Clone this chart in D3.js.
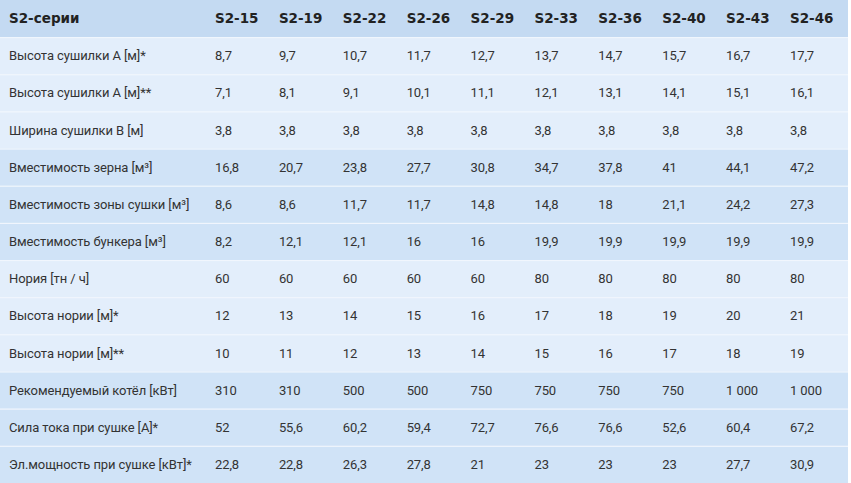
<!DOCTYPE html>
<html>
<head>
<meta charset="utf-8" />
<style>
  body { margin: 0; background: #fff; }
  svg text { fill: #333; }
  .cell { font-family: "Roboto", sans-serif; font-size: 13px; letter-spacing: -0.1px; }
  .head { font-family: "DejaVu Sans", sans-serif; font-weight: bold; font-size: 13.5px; fill: #222; }
</style>
</head>
<body>
<svg id="chart" width="851" height="483"></svg>
<script src="https://d3js.org/d3.v7.min.js"></script>
<script>
  // Column headers and row labels
  const models = ['S2-15','S2-19','S2-22','S2-26','S2-29','S2-33','S2-36','S2-40','S2-43','S2-46'];
  const rowLabels = [
    'Высота сушилки А [м]*',
    'Высота сушилки А [м]**',
    'Ширина сушилки В [м]',
    'Вместимость зерна [м³]',
    'Вместимость зоны сушки [м³]',
    'Вместимость бункера [м³]',
    'Нория [тн / ч]',
    'Высота нории [м]*',
    'Высота нории [м]**',
    'Рекомендуемый котёл [кВт]',
    'Сила тока при сушке [А]*',
    'Эл.мощность при сушке [кВт]*'
  ];
  const values = [
    ['8,7','9,7','10,7','11,7','12,7','13,7','14,7','15,7','16,7','17,7'],
    ['7,1','8,1','9,1','10,1','11,1','12,1','13,1','14,1','15,1','16,1'],
    ['3,8','3,8','3,8','3,8','3,8','3,8','3,8','3,8','3,8','3,8'],
    ['16,8','20,7','23,8','27,7','30,8','34,7','37,8','41','44,1','47,2'],
    ['8,6','8,6','11,7','11,7','14,8','14,8','18','21,1','24,2','27,3'],
    ['8,2','12,1','12,1','16','16','19,9','19,9','19,9','19,9','19,9'],
    ['60','60','60','60','60','80','80','80','80','80'],
    ['12','13','14','15','16','17','18','19','20','21'],
    ['10','11','12','13','14','15','16','17','18','19'],
    ['310','310','500','500','750','750','750','750','1 000','1 000'],
    ['52','55,6','60,2','59,4','72,7','76,6','76,6','52,6','60,4','67,2'],
    ['22,8','22,8','26,3','27,8','21','23','23','23','27,7','30,9']
  ];

  const svg = d3.select('#chart');
  const W = 848, H = 483;

  const y = d3.scaleBand().domain(d3.range(rowLabels.length + 1)).range([0, H]);
  const x = d3.scaleLinear().domain([0, models.length - 1]).range([215, 790]);

  const fill = i => i === 0 ? '#c4daf2' : (Math.floor((i - 1) / 3) % 2 === 0 ? '#e3eefb' : '#d0e3f7');

  svg.selectAll('rect.row').data(d3.range(rowLabels.length + 1)).enter()
    .append('rect').attr('class', 'row')
    .attr('x', 0).attr('y', i => y(i)).attr('width', W).attr('height', y.bandwidth())
    .attr('fill', fill);

  svg.selectAll('line.sep').data(d3.range(1, rowLabels.length + 1)).enter()
    .append('line')
    .attr('x1', 0).attr('x2', W).attr('y1', i => y(i) + 0.5).attr('y2', i => y(i) + 0.5)
    .attr('stroke', '#f2f7fd').attr('stroke-width', 1);

  // header
  const mid = i => y(i) + y.bandwidth() / 2;
  svg.append('text').attr('class', 'head').attr('x', 9).attr('y', mid(0)).attr('dy', '0.35em').text('S2-серии');
  svg.selectAll('text.mh').data(models).enter()
    .append('text').attr('class', 'head').attr('x', (d, j) => x(j)).attr('y', mid(0)).attr('dy', '0.35em').text(d => d);

  // body
  rowLabels.forEach((lab, r) => {
    svg.append('text').attr('class', 'cell').attr('x', 9).attr('y', mid(r + 1)).attr('dy', '0.35em').text(lab);
    svg.selectAll(null).data(values[r]).enter()
      .append('text').attr('class', 'cell')
      .attr('x', (d, j) => x(j)).attr('y', mid(r + 1)).attr('dy', '0.35em').text(d => d);
  });
</script>
</body>
</html>
